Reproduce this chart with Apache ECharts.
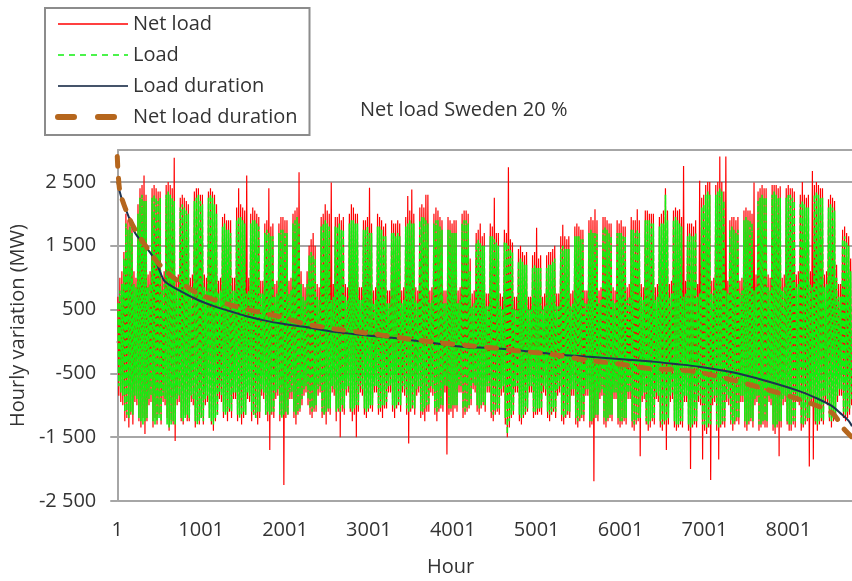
<!DOCTYPE html>
<html>
<head>
<meta charset="utf-8">
<script src="https://cdn.jsdelivr.net/npm/echarts@6/dist/echarts.min.js"></script>
<style>
  html, body { margin: 0; padding: 0; background: #fff; }
  #chart { width: 852px; height: 581px; }
</style>
</head>
<body>
<div id="chart"></div>
<script>
// Net load Sweden 20 % -- hourly variation, one row per week (Fri..Thu), MW

/// data

// daily peak / trough of the hourly variation of load (green)
const loadHi = [
  600, 800, 900, 1300, 1850, 1750, 1800,
  1700, 900, 850, 2000, 2250, 2300, 2200,
  2200, 850, 900, 2250, 2300, 2250, 2200,
  2250, 800, 900, 2300, 2350, 2300, 2250,
  2200, 850, 850, 2100, 2150, 2100, 2050,
  2000, 800, 850, 2200, 2250, 2300, 2200,
  2150, 850, 800, 2250, 2300, 2250, 2150,
  2000, 750, 800, 1800, 1850, 1750, 1750,
  1700, 800, 800, 1900, 1950, 1950, 1900,
  1850, 750, 800, 1850, 1900, 1900, 1850,
  1800, 750, 750, 1700, 1750, 1700, 1650,
  1650, 700, 750, 1700, 1750, 1750, 1700,
  1700, 750, 800, 1850, 1900, 1950, 1850,
  900, 700, 650, 900, 1350, 1400, 1350,
  1300, 700, 650, 1800, 1850, 1900, 1850,
  1800, 650, 700, 1800, 1800, 1850, 1750,
  1750, 700, 650, 1850, 1900, 1900, 1850,
  1850, 650, 650, 1750, 1750, 1800, 1700,
  1700, 600, 650, 1800, 1800, 1750, 1650,
  1650, 600, 600, 1700, 1700, 1650, 1700,
  1650, 600, 650, 1800, 1850, 1900, 1850,
  1850, 650, 600, 1900, 1950, 1950, 1900,
  1850, 600, 650, 1850, 1900, 1900, 1800,
  1750, 600, 600, 1750, 1750, 1700, 1700,
  1700, 600, 650, 1850, 1900, 1900, 1850,
  1100, 550, 600, 1550, 1600, 1550, 1500,
  1500, 550, 550, 1650, 1650, 1600, 1550,
  1500, 550, 500, 1550, 1550, 1500, 1450,
  1400, 500, 500, 1250, 1300, 1250, 1200,
  1200, 500, 500, 1150, 1200, 1150, 1150,
  1150, 500, 550, 1150, 1200, 1200, 1250,
  1300, 550, 550, 1450, 1500, 1450, 1450,
  1450, 550, 600, 1650, 1650, 1650, 1600,
  1600, 600, 600, 1700, 1750, 1700, 1700,
  1700, 600, 650, 1750, 1800, 1750, 1700,
  1650, 650, 600, 1700, 1700, 1700, 1650,
  1650, 650, 700, 1750, 1750, 1700, 1750,
  1700, 700, 650, 1900, 1900, 1900, 1850,
  1850, 650, 700, 1800, 1850, 1850, 2300,
  1900, 700, 750, 1900, 1950, 1900, 1850,
  1800, 700, 750, 1650, 1700, 1650, 1650,
  1700, 700, 750, 2100, 2150, 2300, 2350,
  2300, 750, 800, 2300, 2350, 2400, 2350,
  2200, 800, 750, 1750, 1800, 1750, 1700,
  1750, 750, 800, 1900, 1950, 1900, 1900,
  1850, 800, 850, 2200, 2250, 2300, 2250,
  2250, 850, 800, 2300, 2350, 2300, 2250,
  2250, 800, 850, 2250, 2300, 2300, 2250,
  2200, 850, 900, 2150, 2200, 2150, 2100,
  2100, 900, 850, 2300, 2350, 2300, 2250,
  2250, 850, 900, 2100, 2150, 2100, 2050,
  1000, 700, 700, 1600, 1650, 1550, 1500,
  1100
];

const loadLo = [
  -700, -800, -850, -1100, -1150, -1200, -1100,
  -1150, -850, -900, -1200, -1250, -1300, -1250,
  -1200, -900, -850, -1250, -1300, -1250, -1200,
  -1250, -850, -900, -1300, -1350, -1300, -1250,
  -1300, -900, -850, -1200, -1250, -1200, -1150,
  -1200, -850, -900, -1250, -1300, -1250, -1200,
  -1250, -900, -850, -1200, -1250, -1300, -1200,
  -1150, -800, -850, -1100, -1150, -1100, -1050,
  -1100, -800, -800, -1150, -1200, -1150, -1100,
  -1150, -800, -850, -1100, -1150, -1200, -1100,
  -1100, -750, -800, -1150, -1100, -1150, -1100,
  -1100, -800, -750, -1150, -1200, -1150, -1100,
  -1150, -800, -800, -1100, -1150, -1100, -1050,
  -900, -750, -700, -900, -1050, -1100, -1050,
  -1000, -750, -700, -1100, -1150, -1100, -1050,
  -1050, -700, -750, -1100, -1050, -1100, -1000,
  -1050, -750, -700, -1050, -1100, -1050, -1000,
  -1000, -700, -750, -1050, -1100, -1050, -1000,
  -1000, -700, -700, -1050, -1050, -1000, -1000,
  -950, -700, -700, -1000, -1050, -1000, -950,
  -1000, -700, -750, -1050, -1100, -1050, -1000,
  -1050, -750, -700, -1100, -1100, -1050, -1000,
  -1000, -700, -750, -1050, -1100, -1050, -1000,
  -1000, -700, -700, -1050, -1050, -1000, -1000,
  -1000, -700, -700, -1050, -1100, -1050, -1000,
  -900, -650, -700, -1000, -1050, -1000, -950,
  -1000, -700, -700, -1100, -1150, -1100, -1050,
  -1050, -750, -700, -1200, -1450, -1250, -1150,
  -1100, -700, -700, -1150, -1200, -1150, -1100,
  -1050, -700, -700, -1100, -1100, -1050, -1050,
  -1050, -700, -750, -1100, -1150, -1100, -1050,
  -1100, -750, -700, -1150, -1200, -1150, -1100,
  -1100, -750, -750, -1200, -1250, -1200, -1150,
  -1150, -750, -750, -1250, -1250, -1200, -1150,
  -1150, -800, -750, -1200, -1250, -1200, -1150,
  -1150, -800, -800, -1200, -1250, -1250, -1200,
  -1200, -800, -800, -1250, -1300, -1250, -1200,
  -1200, -850, -800, -1250, -1300, -1250, -1200,
  -1200, -800, -850, -1250, -1300, -1250, -1250,
  -1200, -850, -800, -1250, -1300, -1300, -1250,
  -1250, -850, -850, -1300, -1350, -1300, -1250,
  -1250, -850, -900, -1300, -1300, -1350, -1300,
  -1300, -900, -850, -1300, -1350, -1300, -1250,
  -1250, -850, -900, -1250, -1300, -1250, -1200,
  -1200, -850, -850, -1250, -1300, -1250, -1200,
  -1250, -900, -850, -1300, -1300, -1250, -1250,
  -1250, -850, -900, -1300, -1350, -1300, -1250,
  -1250, -900, -850, -1250, -1300, -1300, -1250,
  -1250, -850, -900, -1300, -1300, -1250, -1200,
  -1200, -900, -850, -1250, -1300, -1250, -1200,
  -1250, -850, -900, -1200, -1250, -1200, -1150,
  -850, -750, -750, -1100, -1150, -1100, -1050,
  -900
];

// daily peak / trough of the hourly variation of net load (red)
const netHi = [
  700, 1000, 1100, 1400, 2000, 1900, 1950,
  1900, 1100, 1000, 2150, 2400, 2450, 2600,
  2300, 1050, 1100, 2400, 2450, 2400, 2350,
  2350, 1000, 1100, 2450, 2500, 2450, 2400,
  2880, 1000, 1050, 2250, 2300, 2250, 2200,
  2150, 1000, 1050, 2350, 2400, 2400, 2300,
  2300, 1050, 1000, 2350, 2400, 2350, 2300,
  2150, 950, 1000, 1950, 2000, 1900, 1900,
  1900, 1000, 1000, 2100, 2400, 2150, 2100,
  2050, 2600, 1000, 2000, 2100, 2050, 2000,
  1950, 950, 950, 1850, 1900, 2400, 1800,
  1850, 900, 950, 1850, 1950, 1950, 1900,
  1900, 950, 1000, 2000, 2050, 2100, 2650,
  1100, 900, 850, 1100, 1500, 1600, 1700,
  1500, 900, 850, 1950, 2000, 2150, 2050,
  2000, 2490, 900, 1950, 1950, 2000, 1900,
  1950, 900, 850, 2000, 2150, 2100, 2000,
  2000, 850, 850, 1900, 1900, 1950, 2410,
  1850, 800, 850, 2000, 1950, 1900, 1800,
  1850, 800, 800, 1900, 1850, 1850, 1900,
  1850, 800, 850, 1950, 2280, 2050, 2380,
  2000, 850, 800, 2100, 2150, 2100, 2300,
  2300, 800, 850, 2000, 2100, 2050, 1950,
  1900, 800, 800, 1950, 1900, 1850, 1900,
  1900, 800, 850, 2000, 2050, 2050, 2000,
  1300, 750, 800, 1700, 1750, 1850, 1650,
  1700, 750, 750, 1850, 1800, 2250, 1700,
  1700, 750, 700, 1750, 1700, 2730, 1600,
  1550, 700, 700, 1450, 1500, 1400, 1350,
  1400, 700, 700, 1350, 1400, 1780, 1300,
  1350, 700, 750, 1350, 1400, 1400, 1450,
  1500, 750, 750, 1650, 1830, 1650, 1600,
  1650, 750, 800, 1800, 1850, 1800, 1750,
  1750, 800, 800, 1900, 1950, 1900, 2070,
  1900, 800, 850, 1950, 1950, 1900, 1850,
  1850, 850, 800, 1900, 1850, 1900, 1800,
  1800, 850, 900, 1950, 1900, 1900, 2070,
  1900, 900, 850, 2050, 2050, 2000, 2000,
  2000, 850, 900, 1950, 2000, 2050, 2400,
  2050, 900, 950, 2050, 2100, 2050, 2070,
  1950, 2750, 950, 1850, 1850, 1850, 1800,
  1900, 900, 2520, 2250, 2300, 2450, 2500,
  2500, 950, 1000, 2450, 2500, 2900, 2500,
  2350, 2900, 950, 1900, 1950, 1950, 1900,
  1950, 950, 1000, 2050, 2100, 2050, 2050,
  2000, 2490, 1050, 2350, 2400, 2450, 2400,
  2400, 1050, 1000, 2450, 2450, 2450, 2400,
  2430, 1000, 1050, 2400, 2450, 2400, 2400,
  2350, 1050, 1100, 2300, 2500, 2300, 2250,
  2300, 1100, 2670, 2450, 2500, 2450, 2400,
  2400, 1050, 1100, 2230, 2300, 2250, 2200,
  1200, 900, 900, 1750, 1800, 1700, 1650,
  1300
];

const netLo = [
  -850, -950, -1000, -1250, -1200, -1350, -1150,
  -1300, -950, -1000, -1250, -1350, -1200, -1450,
  -1250, -1000, -950, -1350, -1200, -1300, -1150,
  -1300, -950, -1000, -1200, -1400, -1250, -1300,
  -1560, -1000, -950, -1250, -1300, -1150, -1250,
  -1250, -950, -1000, -1350, -1250, -1300, -1200,
  -1300, -1000, -950, -1200, -1300, -1400, -1250,
  -1150, -900, -950, -1200, -1100, -1250, -1100,
  -1200, -900, -900, -1250, -1150, -1300, -1200,
  -1150, -900, -950, -1250, -1150, -1200, -1300,
  -1200, -850, -900, -1150, -1250, -1700, -1150,
  -1200, -900, -850, -1250, -1150, -2250, -1200,
  -1150, -900, -900, -1200, -1300, -1150, -1100,
  -1000, -850, -800, -1000, -1150, -1200, -1100,
  -1100, -850, -800, -1200, -1150, -1300, -1100,
  -1150, -800, -850, -1250, -1100, -1500, -1100,
  -1150, -850, -800, -1100, -1250, -1150, -1500,
  -1100, -800, -850, -1150, -1200, -1100, -1050,
  -1100, -800, -800, -1150, -1100, -1200, -1050,
  -1050, -800, -800, -1100, -1200, -1050, -1000,
  -1100, -800, -850, -1150, -1600, -1100, -1050,
  -1150, -850, -800, -1200, -1150, -1250, -1100,
  -1100, -800, -850, -1150, -1250, -1100, -1050,
  -1100, -800, -1770, -1150, -1100, -1200, -1050,
  -1100, -800, -800, -1200, -1150, -1100, -1050,
  -1000, -750, -800, -1100, -1150, -1050, -1000,
  -1100, -800, -800, -1200, -1250, -1150, -1100,
  -1150, -850, -800, -1300, -1500, -1350, -1200,
  -1150, -800, -800, -1250, -1300, -1200, -1150,
  -1100, -800, -800, -1200, -1150, -1150, -1100,
  -1150, -800, -850, -1200, -1250, -1150, -1100,
  -1200, -850, -800, -1250, -1300, -1200, -1150,
  -1200, -850, -850, -1300, -1350, -1250, -1200,
  -1250, -850, -850, -1350, -1300, -2190, -1200,
  -1250, -900, -850, -1300, -1350, -1250, -1200,
  -1250, -900, -900, -1300, -1350, -1300, -1250,
  -1300, -900, -900, -1350, -1400, -1300, -1250,
  -1800, -950, -900, -1300, -1400, -1350, -1250,
  -1300, -900, -950, -1350, -1400, -1300, -1700,
  -1300, -950, -900, -1350, -1400, -1350, -1300,
  -1350, -950, -950, -1400, -2000, -1350, -1300,
  -1350, -950, -1000, -1850, -1400, -1450, -1350,
  -2170, -1000, -950, -1400, -1850, -1350, -1300,
  -1350, -950, -1000, -1300, -1400, -1300, -1250,
  -1300, -950, -950, -1350, -1400, -1300, -1250,
  -1350, -1000, -950, -1400, -1350, -1300, -1350,
  -1350, -950, -1000, -1400, -1450, -1350, -1800,
  -1350, -1000, -950, -1300, -1400, -1400, -1300,
  -1350, -950, -1000, -1400, -1350, -1300, -1250,
  -1960, -1000, -1850, -1300, -1400, -1300, -1250,
  -1300, -950, -1000, -1250, -1350, -1250, -1200,
  -950, -850, -850, -1200, -1250, -1200, -1150,
  -1000
];

// duration curves (sorted hourly variation), read at these hours
const loadDurHours = [1, 56, 135, 214, 332, 451, 510, 570, 766, 963, 1160, 1358, 1555, 1752, 1950, 2226,
  2585, 2980, 3374, 3768, 4163, 4403, 4798, 5192, 5587, 5981, 6376, 6652, 6940, 7335, 7729, 8123,
  8320, 8518, 8636, 8723, 8760];
const loadDurValues = [2500, 2230, 1960, 1700, 1500, 1280, 1095, 940, 780, 650, 550, 470, 390, 330, 280, 230,
  150, 95, 42, -26, -90, -100, -142, -195, -237, -274, -316, -353, -395, -484, -616, -774,
  -879, -1010, -1142, -1247, -1330];

const netDurHours = [1, 12, 36, 135, 214, 371, 490, 608, 766, 963, 1160, 1358, 1555, 1752, 1950, 2226,
  2585, 2980, 3374, 3768, 4163, 4403, 4798, 5192, 5587, 5981, 6376, 6652, 6940, 7335, 7729, 8123,
  8518, 8650, 8760];
const netDurValues = [2900, 2620, 2330, 1960, 1750, 1435, 1225, 1070, 910, 750, 650, 570, 500, 440, 385, 280,
  200, 130, 58, -10, -63, -90, -150, -205, -290, -353, -430, -440, -484, -605, -747, -905,
  -1116, -1350, -1500];

const xLabelHours = [1, 1001, 2001, 3001, 4001, 5001, 6001, 7001, 8001];
const xTickHours = [1, 601, 1201, 1801, 2401, 3001, 3601, 4201, 4801, 5401, 6001, 6601, 7201, 7801, 8401];


/// helpers

// each day: morning peak then evening trough
function dailySeries(hi, lo) {
  const out = [];
  for (let d = 0; d < hi.length; d++) {
    out.push([d * 24 + 8, hi[d]]);
    out.push([d * 24 + 19, lo[d]]);
  }
  return out;
}

function pairs(xs, ys) {
  return xs.map((x, i) => [x, ys[i]]);
}

function fmtMW(v) {
  const a = Math.abs(v);
  const s = a >= 1000 ? Math.floor(a / 1000) + ' ' + String(a % 1000).padStart(3, '0') : String(a);
  return (v < 0 ? '-' : '') + s;
}


/// chart

const FONT = '"Open Sans", "Noto Sans", sans-serif';
const TXT = '#333333';
const GRAY = '#a6a6a6';
const RED = '#ff0000', GREEN = '#10f010', NAVY = '#1d3350', BROWN = '#b5661d';

const chart = echarts.init(document.getElementById('chart'), null, { renderer: 'canvas' });

chart.setOption({
  animation: false,
  backgroundColor: '#ffffff',
  textStyle: { fontFamily: FONT },
  title: {
    text: 'Net load Sweden 20 %',
    left: 355, top: 95,
    textStyle: { fontSize: 20, fontWeight: 'normal', color: TXT, fontFamily: FONT }
  },
  legend: {
    orient: 'vertical',
    left: 45, top: 8,
    padding: [5, 12, 7, 10],
    itemWidth: 70, itemHeight: 14, itemGap: 9,
    itemStyle: { opacity: 0 },
    borderColor: '#8c8c8c', borderWidth: 2,
    textStyle: { fontSize: 20, color: TXT, fontFamily: FONT, lineHeight: 22 },
    data: [
      { name: 'Net load', lineStyle: { width: 1.5 } },
      { name: 'Load', lineStyle: { width: 1.5, type: [6, 5] } },
      { name: 'Load duration', lineStyle: { width: 2, color: '#45546a' } },
      { name: 'Net load duration', lineStyle: { width: 6, type: [16, 24], cap: 'round' } }
    ]
  },
  grid: { left: 115, top: 150, right: -5, bottom: 80 },
  xAxis: {
    type: 'value',
    min: 1, max: 8760,
    axisLine: { lineStyle: { color: GRAY, width: 2 } },
    axisTick: { show: true, length: 7, lineStyle: { color: GRAY, width: 2 }, customValues: xTickHours },
    axisLabel: {
      customValues: xLabelHours, fontSize: 20, color: TXT, margin: 19, fontFamily: FONT,
      formatter: v => String(v)
    },
    splitLine: { show: false }
  },
  yAxis: {
    type: 'value',
    min: -2500, max: 3000, interval: 1000,
    name: 'Hourly variation (MW)',
    nameLocation: 'middle', nameRotate: 90, nameGap: 82,
    nameTextStyle: { fontSize: 20, color: TXT, fontFamily: FONT },
    axisLine: { show: true, lineStyle: { color: GRAY, width: 2 } },
    axisTick: { show: true, length: 7, lineStyle: { color: GRAY, width: 2 } },
    axisLabel: { fontSize: 20, color: TXT, margin: 21, showMaxLabel: false, formatter: fmtMW, fontFamily: FONT },
    splitLine: { show: true, lineStyle: { color: GRAY, width: 2 } }
  },
  graphic: [
    { type: 'text', left: 427, top: 557, style: { text: 'Hour', font: '20px ' + FONT, fill: TXT } }
  ],
  series: [
    {
      name: 'Net load', type: 'line', data: dailySeries(netHi, netLo),
      symbol: 'none', showSymbol: false,
      lineStyle: { color: RED, width: 1.2 }, itemStyle: { color: RED },
      z: 1
    },
    {
      name: 'Load', type: 'line', data: dailySeries(loadHi, loadLo),
      symbol: 'none', showSymbol: false,
      lineStyle: { color: GREEN, width: 1.6, type: [6, 2] }, itemStyle: { color: GREEN },
      z: 2
    },
    {
      name: 'Load duration', type: 'line', data: pairs(loadDurHours, loadDurValues),
      symbol: 'none', showSymbol: false, smooth: 0.3,
      lineStyle: { color: NAVY, width: 2 }, itemStyle: { color: NAVY },
      z: 3
    },
    {
      name: 'Net load duration', type: 'line', data: pairs(netDurHours, netDurValues),
      symbol: 'none', showSymbol: false, smooth: 0.3,
      lineStyle: { color: BROWN, width: 5, type: [10, 12], cap: 'round' }, itemStyle: { color: BROWN },
      z: 4
    }
  ]
});
</script>
</body>
</html>
